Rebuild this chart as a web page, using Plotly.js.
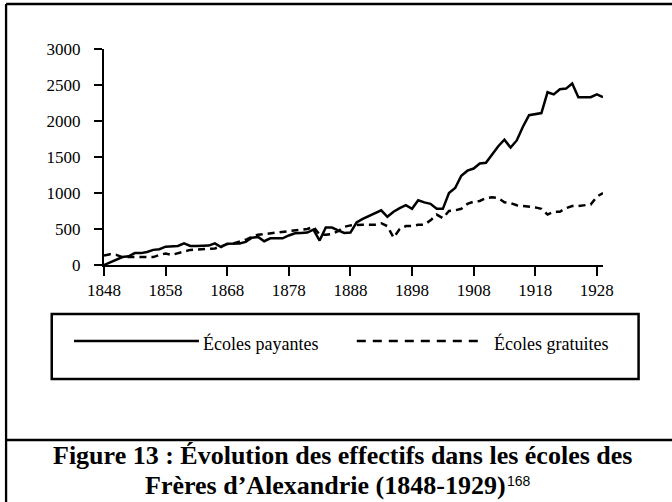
<!DOCTYPE html>
<html><head><meta charset="utf-8">
<script src="https://cdn.plot.ly/plotly-3.0.1.min.js"></script>
<style>html,body{margin:0;padding:0;background:#fff;} #chart{width:672px;height:502px;}</style>
</head><body><div id="chart"></div>
<script>
const years = [1848,1849,1850,1851,1852,1853,1854,1855,1856,1857,
  1858,1859,1860,1861,1862,1863,1864,1865,1866,1867,
  1868,1869,1870,1871,1872,1873,1874,1875,1876,1877,
  1878,1879,1880,1881,1882,1883,1884,1885,1886,1887,
  1888,1889,1890,1891,1892,1893,1894,1895,1896,1897,
  1898,1899,1900,1901,1902,1903,1904,1905,1906,1907,
  1908,1909,1910,1911,1912,1913,1914,1915,1916,1917,
  1918,1919,1920,1921,1922,1923,1924,1925,1926,1927,
  1928,1929];
const payantes = [0,40,80,110,120,165,165,180,210,220,
  255,265,265,300,265,265,265,270,300,250,
  295,300,300,320,380,390,330,370,370,370,
  410,440,445,450,490,340,520,520,480,445,
  450,590,640,680,720,760,670,740,790,830,
  780,900,870,850,780,780,1000,1070,1240,1310,
  1340,1410,1420,1530,1650,1740,1630,1730,1920,2080,
  2100,2110,2400,2370,2440,2450,2520,2330,2330,2330,
  2370,2330];
const gratuites = [130,150,140,110,110,110,100,100,110,140,
  160,140,160,180,210,215,220,215,230,260,
  290,300,320,350,390,420,430,440,460,470,
  480,480,500,500,530,420,420,430,470,530,
  550,560,560,560,560,580,540,380,500,540,
  540,560,560,620,700,650,750,760,780,850,
  880,890,930,940,930,870,860,830,820,820,
  800,780,700,740,740,790,820,820,830,840,
  950,1000];
const seriesNames = ['Écoles payantes', 'Écoles gratuites'];
const tickYears = [1848,1858,1868,1878,1888,1898,1908,1918,1928];
const tickYearLabels = ['1848','1858','1868','1878','1888','1898','1908','1918','1928'];
const minorYears = [1853,1863,1873,1883,1893,1903,1913,1923];
const yTicks = [0,500,1000,1500,2000,2500,3000];
const yTickLabels = ['0','500','1000','1500','2000','2500','3000'];
const captionLine1 = 'Figure 13 : Évolution des effectifs dans les écoles des';
const captionLine2 = 'Frères d’Alexandrie (1848-1929)';
const captionNote = '168';

const W = 672, H = 502, L = 104, R = 68.6, T = 49, B = 237;
const PW = W - L - R, PH = H - T - B;
const px = v => (v - L) / PW;
const py = v => (H - B - v) / PH;

const serif = 'Liberation Serif, Times New Roman, serif';
const axisCommon = {showgrid: false, zeroline: false, color: 'black', linecolor: 'black', tickcolor: 'black', fixedrange: true};

const traces = [
  {x: years, y: payantes, name: seriesNames[0], type: 'scatter', mode: 'lines',
   line: {color: 'black', width: 2.5}, xaxis: 'x', yaxis: 'y', showlegend: false},
  {x: years, y: gratuites, name: seriesNames[1], type: 'scatter', mode: 'lines',
   line: {color: 'black', width: 2.5, dash: '7px,5px'}, xaxis: 'x', yaxis: 'y', showlegend: false}
];

const legendY = 341;
const layout = {
  width: W, height: H,
  margin: {l: L, r: R, t: T, b: B, pad: 0},
  paper_bgcolor: 'white', plot_bgcolor: 'white',
  showlegend: false,
  xaxis: Object.assign({}, axisCommon, {
    range: [1848, 1929], tickmode: 'array', tickvals: tickYears, ticktext: tickYearLabels,
    ticks: 'outside', ticklen: 9, tickwidth: 2, showline: true, linewidth: 2,
    tickfont: {family: serif, size: 17, color: 'black'}
  }),
  xaxis2: Object.assign({}, axisCommon, {
    overlaying: 'x', anchor: 'y', range: [1848, 1929], tickmode: 'array', tickvals: tickYears,
    ticks: 'inside', ticklen: 12, tickwidth: 2, showticklabels: false, showline: false,
    minor: {tickmode: 'array', tickvals: minorYears, ticks: 'inside', ticklen: 9, tickwidth: 2, tickcolor: 'black', showgrid: false}
  }),
  yaxis: Object.assign({}, axisCommon, {
    range: [0, 3000], tickmode: 'array', tickvals: yTicks, ticktext: yTickLabels,
    ticks: 'outside', ticklen: 8, tickwidth: 2, showline: true, linewidth: 2,
    ticklabelstandoff: 10,
    tickfont: {family: serif, size: 17, color: 'black'}
  }),
  yaxis2: Object.assign({}, axisCommon, {
    overlaying: 'y', anchor: 'x', side: 'left', range: [0, 3000], tickmode: 'array', tickvals: yTicks,
    ticks: 'inside', ticklen: 8, tickwidth: 2, showticklabels: false, showline: false
  }),
  shapes: [
    {type: 'line', xref: 'paper', yref: 'paper', x0: px(6), x1: px(6), y0: py(4), y1: py(503), line: {color: 'black', width: 2.3}},
    {type: 'line', xref: 'paper', yref: 'paper', x0: px(6), x1: px(673), y0: py(4), y1: py(4), line: {color: 'black', width: 2.3}},
    {type: 'line', xref: 'paper', yref: 'paper', x0: px(6), x1: px(673), y0: py(440), y1: py(440), line: {color: 'black', width: 2.3}},
    {type: 'rect', xref: 'paper', yref: 'paper', x0: px(51.7), x1: px(639), y0: py(314), y1: py(379), line: {color: 'black', width: 2.5}, fillcolor: 'rgba(0,0,0,0)'},
    {type: 'line', xref: 'paper', yref: 'paper', x0: px(74), x1: px(199), y0: py(legendY), y1: py(legendY), line: {color: 'black', width: 2.5}},
    {type: 'line', xref: 'paper', yref: 'paper', x0: px(357), x1: px(482), y0: py(legendY), y1: py(legendY), line: {color: 'black', width: 2.5, dash: '9px,7px'}}
  ],
  annotations: [
    {xref: 'paper', yref: 'paper', x: px(201), y: py(343), xanchor: 'left', yanchor: 'middle', showarrow: false,
     text: seriesNames[0], font: {family: serif, size: 18, color: 'black'}},
    {xref: 'paper', yref: 'paper', x: px(492), y: py(343), xanchor: 'left', yanchor: 'middle', showarrow: false,
     text: seriesNames[1], font: {family: serif, size: 18, color: 'black'}},
    {xref: 'paper', yref: 'paper', x: px(343), y: py(455), xanchor: 'center', yanchor: 'middle', showarrow: false,
     text: '<b>' + captionLine1 + '</b>', font: {family: serif, size: 26, color: 'black'}},
    {xref: 'paper', yref: 'paper', x: px(508), y: py(486), xanchor: 'right', yanchor: 'middle', showarrow: false,
     text: '<b>' + captionLine2 + '</b>', font: {family: serif, size: 26, color: 'black'}},
    {xref: 'paper', yref: 'paper', x: px(505), y: py(481), xanchor: 'left', yanchor: 'middle', showarrow: false,
     text: captionNote, font: {family: 'Liberation Sans, Arial, sans-serif', size: 14, color: 'black'}}
  ]
};

Plotly.newPlot('chart', traces, layout, {displayModeBar: false, staticPlot: true});
</script></body></html>
